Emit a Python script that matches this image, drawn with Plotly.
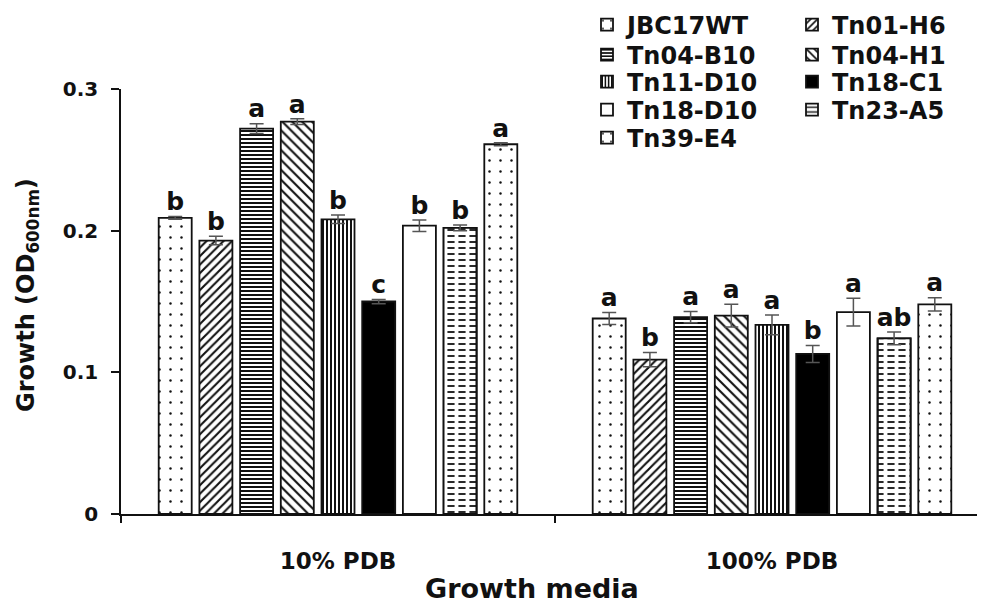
import plotly.graph_objects as go

# ---------------- data ----------------
media = ["10% PDB", "100% PDB"]
strains = ["JBC17WT", "Tn01-H6", "Tn04-B10", "Tn04-H1", "Tn11-D10",
           "Tn18-C1", "Tn18-D10", "Tn23-A5", "Tn39-E4"]
growth_10 = [0.209, 0.193, 0.272, 0.277, 0.208, 0.150, 0.2035, 0.202, 0.261]
err_10 = [0.001, 0.003, 0.0035, 0.002, 0.003, 0.0015, 0.004, 0.002, 0.001]
growth_100 = [0.138, 0.109, 0.139, 0.140, 0.1335, 0.113, 0.1425, 0.124, 0.148]
err_100 = [0.0043, 0.005, 0.004, 0.008, 0.007, 0.006, 0.0098, 0.0045, 0.0047]
letters_10 = ["b", "b", "a", "a", "b", "c", "b", "b", "a"]
letters_100 = ["a", "b", "a", "a", "a", "b", "a", "ab", "a"]
y_ticks = [0, 0.1, 0.2, 0.3]
y_ticktext = ["0", "0.1", "0.2", "0.3"]

# ---------------- styles ----------------
FONT = "DejaVu Sans"
INK = "#111111"
patterns = {
    "JBC17WT": dict(color="white", shape=".", size=11, solidity=0.04),
    "Tn01-H6": dict(color="white", shape="/", size=6, solidity=0.35),
    "Tn04-B10": dict(color="white", shape="-", size=4, solidity=0.5),
    "Tn04-H1": dict(color="white", shape="\\", size=7, solidity=0.3),
    "Tn11-D10": dict(color="white", shape="|", size=4, solidity=0.5),
    "Tn18-C1": dict(color="black", shape="", size=8, solidity=0.3),
    "Tn18-D10": dict(color="white", shape="", size=8, solidity=0.3),
    "Tn23-A5": dict(color="white", shape="-", size=6, solidity=0.3),
    "Tn39-E4": dict(color="white", shape=".", size=11, solidity=0.04),
}

# geometry (in category units)
CAT_PX = 434.0
pitch = 40.7 / CAT_PX
bar_w = 33.0 / CAT_PX
start = -(8 * pitch + bar_w) / 2

# page offset (body margin) and plot area geometry in screenshot pixels
OFF = 8
W, H = 985, 605
L_PX, T_PX, B_PX, R_PX = 121 - OFF, 89 - OFF, 514 - OFF, 989 - OFF
plot_w = R_PX - L_PX
plot_h = B_PX - T_PX
def px2x(px):
    return (px - OFF - L_PX) / plot_w
def px2y(py):
    return (B_PX - (py - OFF)) / plot_h

x_pos = [0, 1]
fig = go.Figure()

# legend slots (text start x px, row center y px) in screenshot pixels
legend_slots = [(628, 25), (833, 25), (628, 55), (833, 55), (628, 82),
                (833, 82), (628, 110), (833, 110), (628, 138)]

for i, s in enumerate(strains):
    p = patterns[s]
    vals = [growth_10[i], growth_100[i]]
    errs = [err_10[i], err_100[i]]
    pat = dict(shape=p["shape"], size=p["size"], solidity=p["solidity"],
               fgcolor=INK, bgcolor=p["color"], fillmode="replace")
    lid = "legend" if i == 0 else f"legend{i + 1}"
    has_overlay = s == "Tn23-A5"
    fig.add_trace(go.Bar(
        x=x_pos, y=vals, name=s, legend=lid,
        offset=start + i * pitch, width=bar_w,
        marker=dict(color=p["color"], pattern=pat,
                    line=dict(color=INK, width=1.8)),
        error_y=dict(type="data", array=errs, visible=not has_overlay,
                     color="#555555", thickness=1.5, width=7),
    ))
    if has_overlay:
        # white vertical breaks turning the horizontal lines into dashes
        fig.add_trace(go.Bar(
            x=x_pos, y=vals, name=s, showlegend=False, hoverinfo="skip",
            offset=start + i * pitch, width=bar_w,
            marker=dict(color="rgba(0,0,0,0)",
                        pattern=dict(shape="|", size=11, solidity=0.35,
                                     fgcolor="white", bgcolor="rgba(0,0,0,0)",
                                     fillmode="replace"),
                        line=dict(color=INK, width=1.8)),
            error_y=dict(type="data", array=errs, visible=True,
                         color="#555555", thickness=1.5, width=7),
        ))

# significance letters
lx, ly, lt = [], [], []
for i in range(len(strains)):
    for j, (g, e, l) in enumerate([(growth_10, err_10, letters_10),
                                   (growth_100, err_100, letters_100)]):
        lx.append(x_pos[j] + start + i * pitch + bar_w / 2)
        ly.append(g[i] + e[i])
        lt.append(l[i])
fig.add_trace(go.Scatter(
    x=lx, y=ly, text=lt, mode="text", textposition="top center",
    textfont=dict(family=FONT, size=25, color=INK, weight="bold"),
    showlegend=False, hoverinfo="skip", cliponaxis=False,
))

legend_common = dict(
    font=dict(family=FONT, size=24, color=INK, weight="bold"),
    bgcolor="rgba(0,0,0,0)", borderwidth=0, xanchor="left",
    yanchor="middle", itemwidth=30, itemclick=False,
)
layout_legends = {}
for i, (tx, ty) in enumerate(legend_slots):
    lid = "legend" if i == 0 else f"legend{i + 1}"
    layout_legends[lid] = dict(legend_common, x=px2x(tx - 41), y=px2y(ty))

fig.update_layout(
    width=W, height=H,
    margin=dict(l=L_PX, r=W - R_PX, t=T_PX, b=H - B_PX, autoexpand=False),
    paper_bgcolor="white", plot_bgcolor="white",
    barmode="overlay",
    showlegend=True,
    xaxis=dict(
        range=[-0.5, -0.5 + plot_w / CAT_PX], tickvals=x_pos, ticktext=media,
        ticks="", showline=True, linecolor=INK, linewidth=1.5,
        showgrid=False, zeroline=False, ticklabelstandoff=26,
        tickfont=dict(family=FONT, size=23, color=INK, weight="bold"),
        minor=dict(tickmode="array", tickvals=[-0.5, 0.5, 1.5],
                   ticks="outside", ticklen=7, tickwidth=1.5, tickcolor=INK,
                   showgrid=False),
    ),
    yaxis=dict(
        range=[0, 0.3], tickvals=y_ticks, ticktext=y_ticktext,
        ticks="outside", ticklen=8, tickwidth=1.5, tickcolor=INK,
        showline=True, linecolor=INK, linewidth=1.5,
        showgrid=False, zeroline=False, ticklabelstandoff=9,
        tickfont=dict(family=FONT, size=20, color=INK, weight="bold"),
    ),
    annotations=[
        dict(text="Growth (OD<sub>600nm</sub>)", textangle=-90,
             xref="paper", yref="paper", x=px2x(27), y=px2y(295),
             xanchor="center", yanchor="middle", showarrow=False,
             font=dict(family=FONT, size=24, color=INK, weight="bold")),
        dict(text="Growth media",
             xref="paper", yref="paper", x=px2x(532), y=px2y(588),
             xanchor="center", yanchor="middle", showarrow=False,
             font=dict(family=FONT, size=27, color=INK, weight="bold")),
    ],
    **layout_legends,
)

fig.write_html("out.html")
